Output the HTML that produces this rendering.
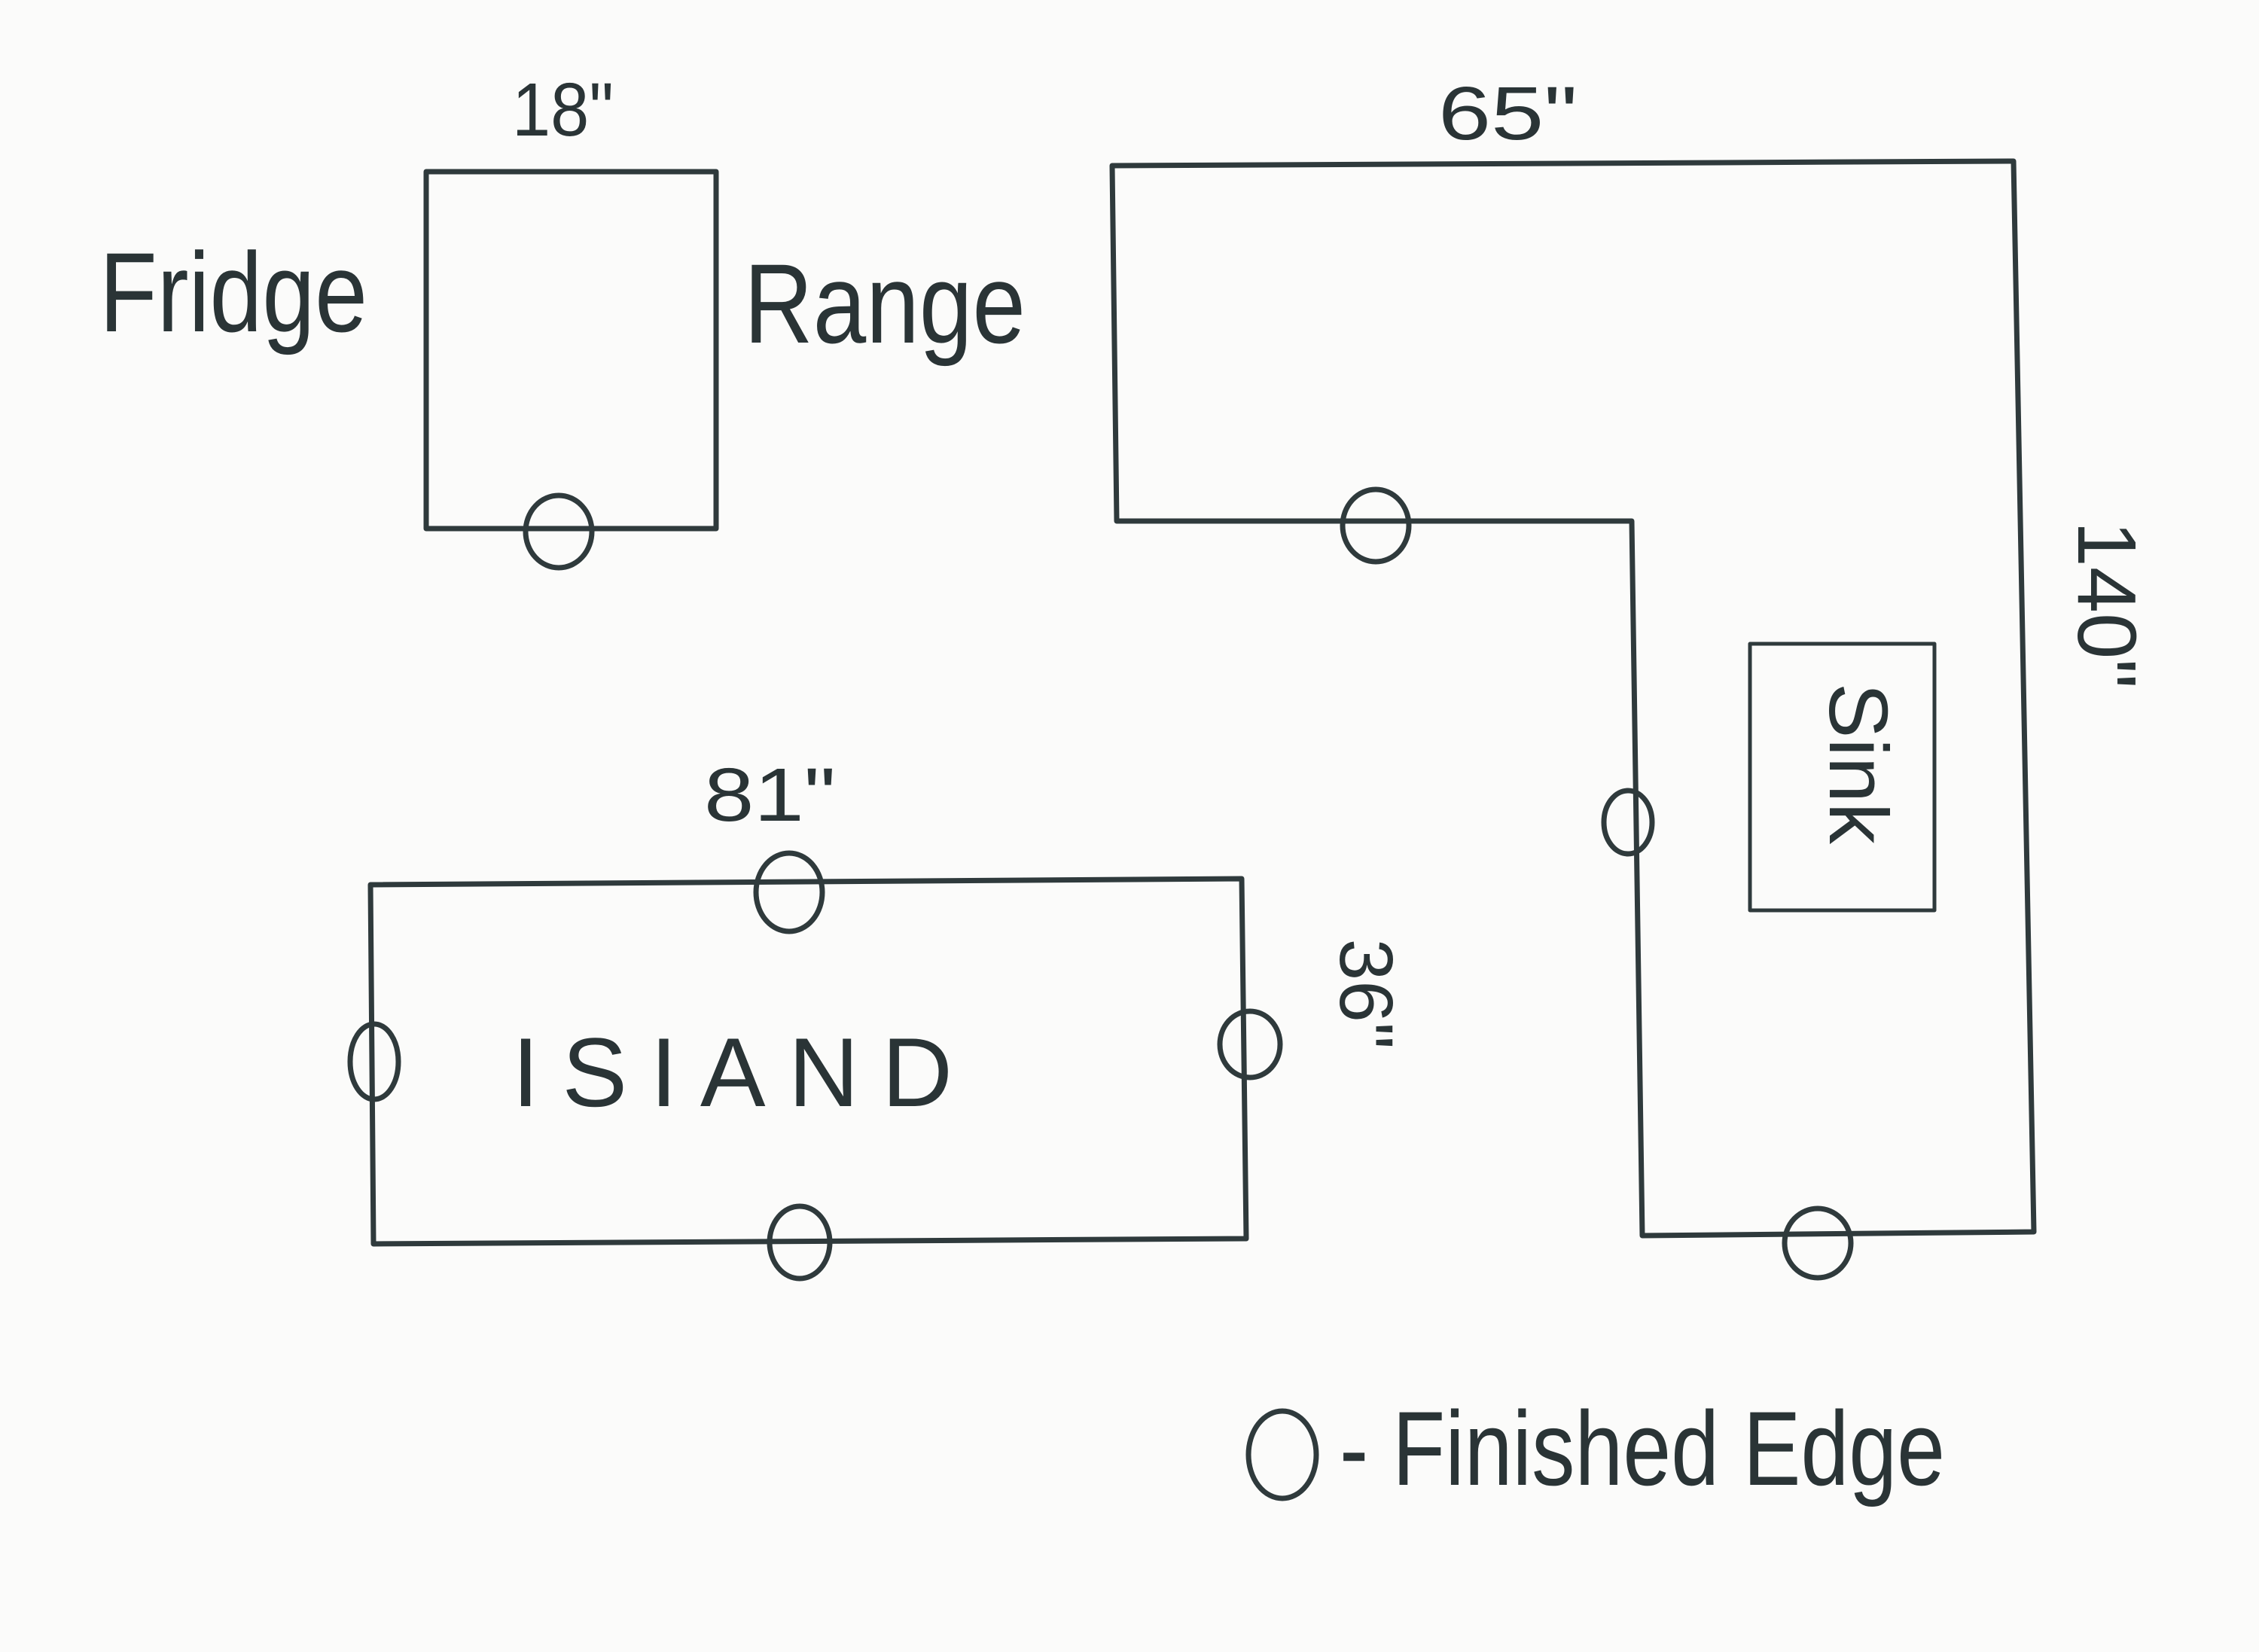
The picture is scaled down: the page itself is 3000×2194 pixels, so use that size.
<!DOCTYPE html>
<html><head><style>
html,body{margin:0;padding:0;background:#fbfbfa;}
svg{display:block}
text{font-family:"Liberation Sans",sans-serif;fill:#2a3436}
</style></head><body>
<svg width="3000" height="2194" viewBox="0 0 3000 2194" xmlns="http://www.w3.org/2000/svg">
<rect width="3000" height="2194" fill="#fbfbfa"/>
<g fill="none" stroke="#2f3a3c" stroke-width="7" stroke-linejoin="round">
<rect x="566" y="228" width="385" height="474"/>
<ellipse cx="742" cy="706" rx="44" ry="48"/>
<polygon points="1477,220 2674,214 2701,1636 2181,1641 2167,692 1483,692"/>
<ellipse cx="1827" cy="698" rx="44" ry="48"/>
<ellipse cx="2162" cy="1092" rx="32" ry="42"/>
<ellipse cx="2414" cy="1651" rx="44" ry="46"/>
<rect x="2324" y="855" width="245" height="354" stroke-width="5"/>
<polygon points="492,1175 1649,1167 1655,1645 496,1652"/>
<ellipse cx="1048" cy="1185" rx="44" ry="52"/>
<ellipse cx="497" cy="1410" rx="32" ry="50"/>
<ellipse cx="1660" cy="1387" rx="40" ry="44"/>
<ellipse cx="1062" cy="1650" rx="40" ry="48"/>
<ellipse cx="1703" cy="1932" rx="45" ry="58"/>
</g>
<text x="680" y="180" font-size="100" textLength="135" lengthAdjust="spacingAndGlyphs">18"</text>
<text x="132" y="440" font-size="150" textLength="356" lengthAdjust="spacingAndGlyphs">Fridge</text>
<text x="988" y="455" font-size="150" textLength="374" lengthAdjust="spacingAndGlyphs">Range</text>
<text x="1910" y="185" font-size="100" textLength="185" lengthAdjust="spacingAndGlyphs">65"</text>
<text x="935" y="1090" font-size="100" textLength="175" lengthAdjust="spacingAndGlyphs">81"</text>
<text x="680" y="1469" font-size="130" textLength="585" lengthAdjust="spacing">ISIAND</text>
<text transform="translate(2430,1014) rotate(90)" font-size="110" text-anchor="middle">Sink</text>
<text transform="translate(2760,803) rotate(90)" font-size="110" text-anchor="middle">140"</text>
<text transform="translate(1780,1320) rotate(90)" font-size="100" text-anchor="middle">36"</text>
<text x="1779" y="1972" font-size="140" textLength="804" lengthAdjust="spacingAndGlyphs">- Finished Edge</text>
</svg>
</body></html>
